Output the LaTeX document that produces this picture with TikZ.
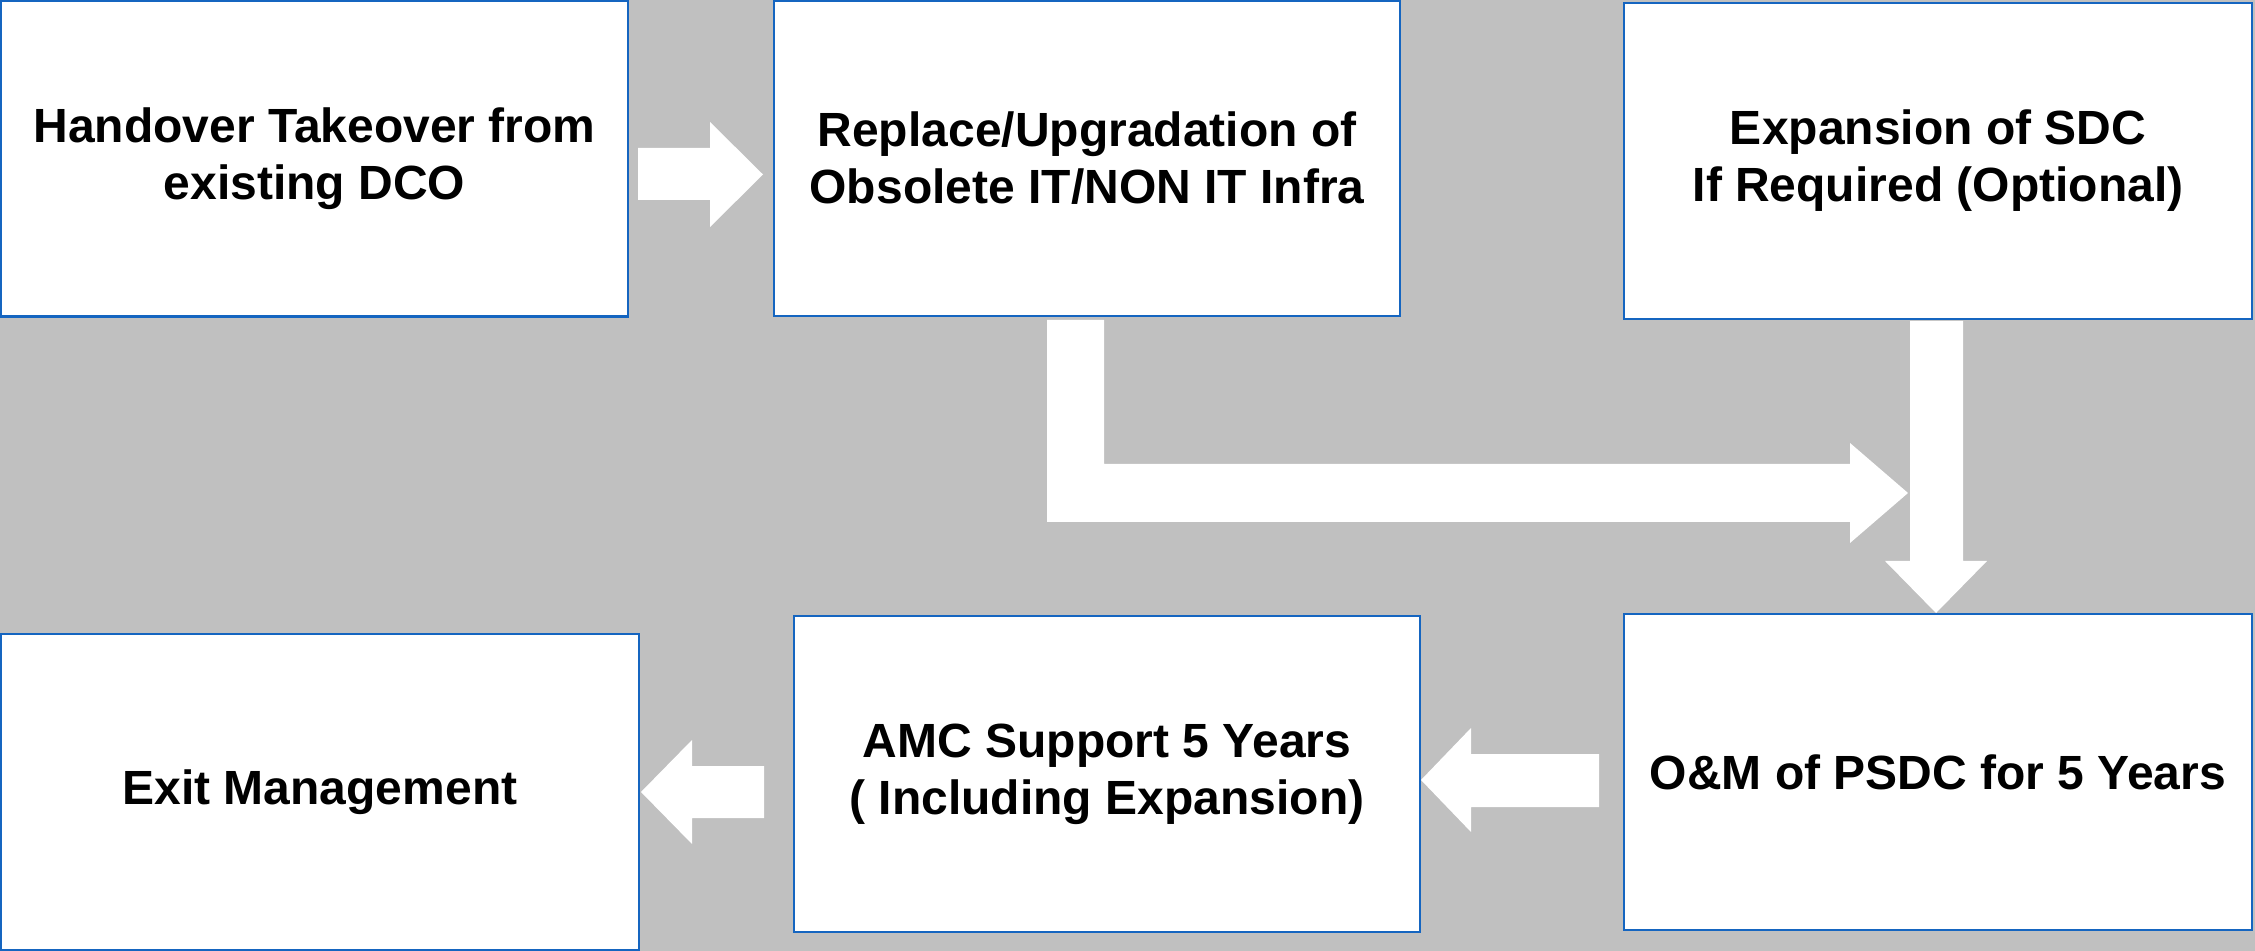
\documentclass[tikz,border=0pt]{standalone}
\usepackage{fontspec}
\setmainfont{Liberation Sans}
\definecolor{bg}{RGB}{192,192,192}
\definecolor{boxblue}{RGB}{21,101,192}
\begin{document}
\begin{tikzpicture}[x=0.5pt,y=-0.5pt,
  stepbox/.style={draw=boxblue,line width=1.1pt,fill=white,align=center,
    font=\fontsize{24}{28.5}\selectfont\bfseries,inner sep=0pt},
  blockarrow/.style={fill=white,draw=none}]
\fill[bg] (0,0) rectangle (2255,951);
\useasboundingbox (0,0) rectangle (2255,951);
% boxes
\node[stepbox,minimum width=313.5pt,minimum height=158pt] (b1) at (314.5,158.5) {Handover Takeover from\\existing DCO};
\node[stepbox,minimum width=313pt,minimum height=157.5pt] (b2) at (1087,158.5) {Replace/Upgradation of\\Obsolete IT/NON IT Infra};
\node[stepbox,minimum width=314pt,minimum height=158pt] (b3) at (1938,161) {Expansion of SDC\\If Required (Optional)};
\node[stepbox,minimum width=314pt,minimum height=158pt] (b6) at (1938,772) {O\&M of PSDC for 5 Years};
\node[stepbox,minimum width=313pt,minimum height=158pt] (b5) at (1107,774) {AMC Support 5 Years\\( Including Expansion)};
\node[stepbox,minimum width=319pt,minimum height=158pt] (b4) at (320,792) {Exit Management};
% block arrows
\fill[blockarrow] (638,148) -- (710,148) -- (710,122) -- (763,174.5) -- (710,227) -- (710,200) -- (638,200) -- cycle;
\fill[blockarrow] (1047,320) -- (1104,320) -- (1104,464) -- (1850,464) -- (1850,443) -- (1908,493) -- (1850,543) -- (1850,522) -- (1047,522) -- cycle;
\fill[blockarrow] (1910,321) -- (1963,321) -- (1963,561) -- (1987,561) -- (1936,613) -- (1885,561) -- (1910,561) -- cycle;
\fill[blockarrow] (1599,754) -- (1471,754) -- (1471,728) -- (1421,780) -- (1471,832) -- (1471,807) -- (1599,807) -- cycle;
\fill[blockarrow] (764,766) -- (692,766) -- (692,740) -- (641,792) -- (692,844) -- (692,818) -- (764,818) -- cycle;
\end{tikzpicture}
\end{document}
